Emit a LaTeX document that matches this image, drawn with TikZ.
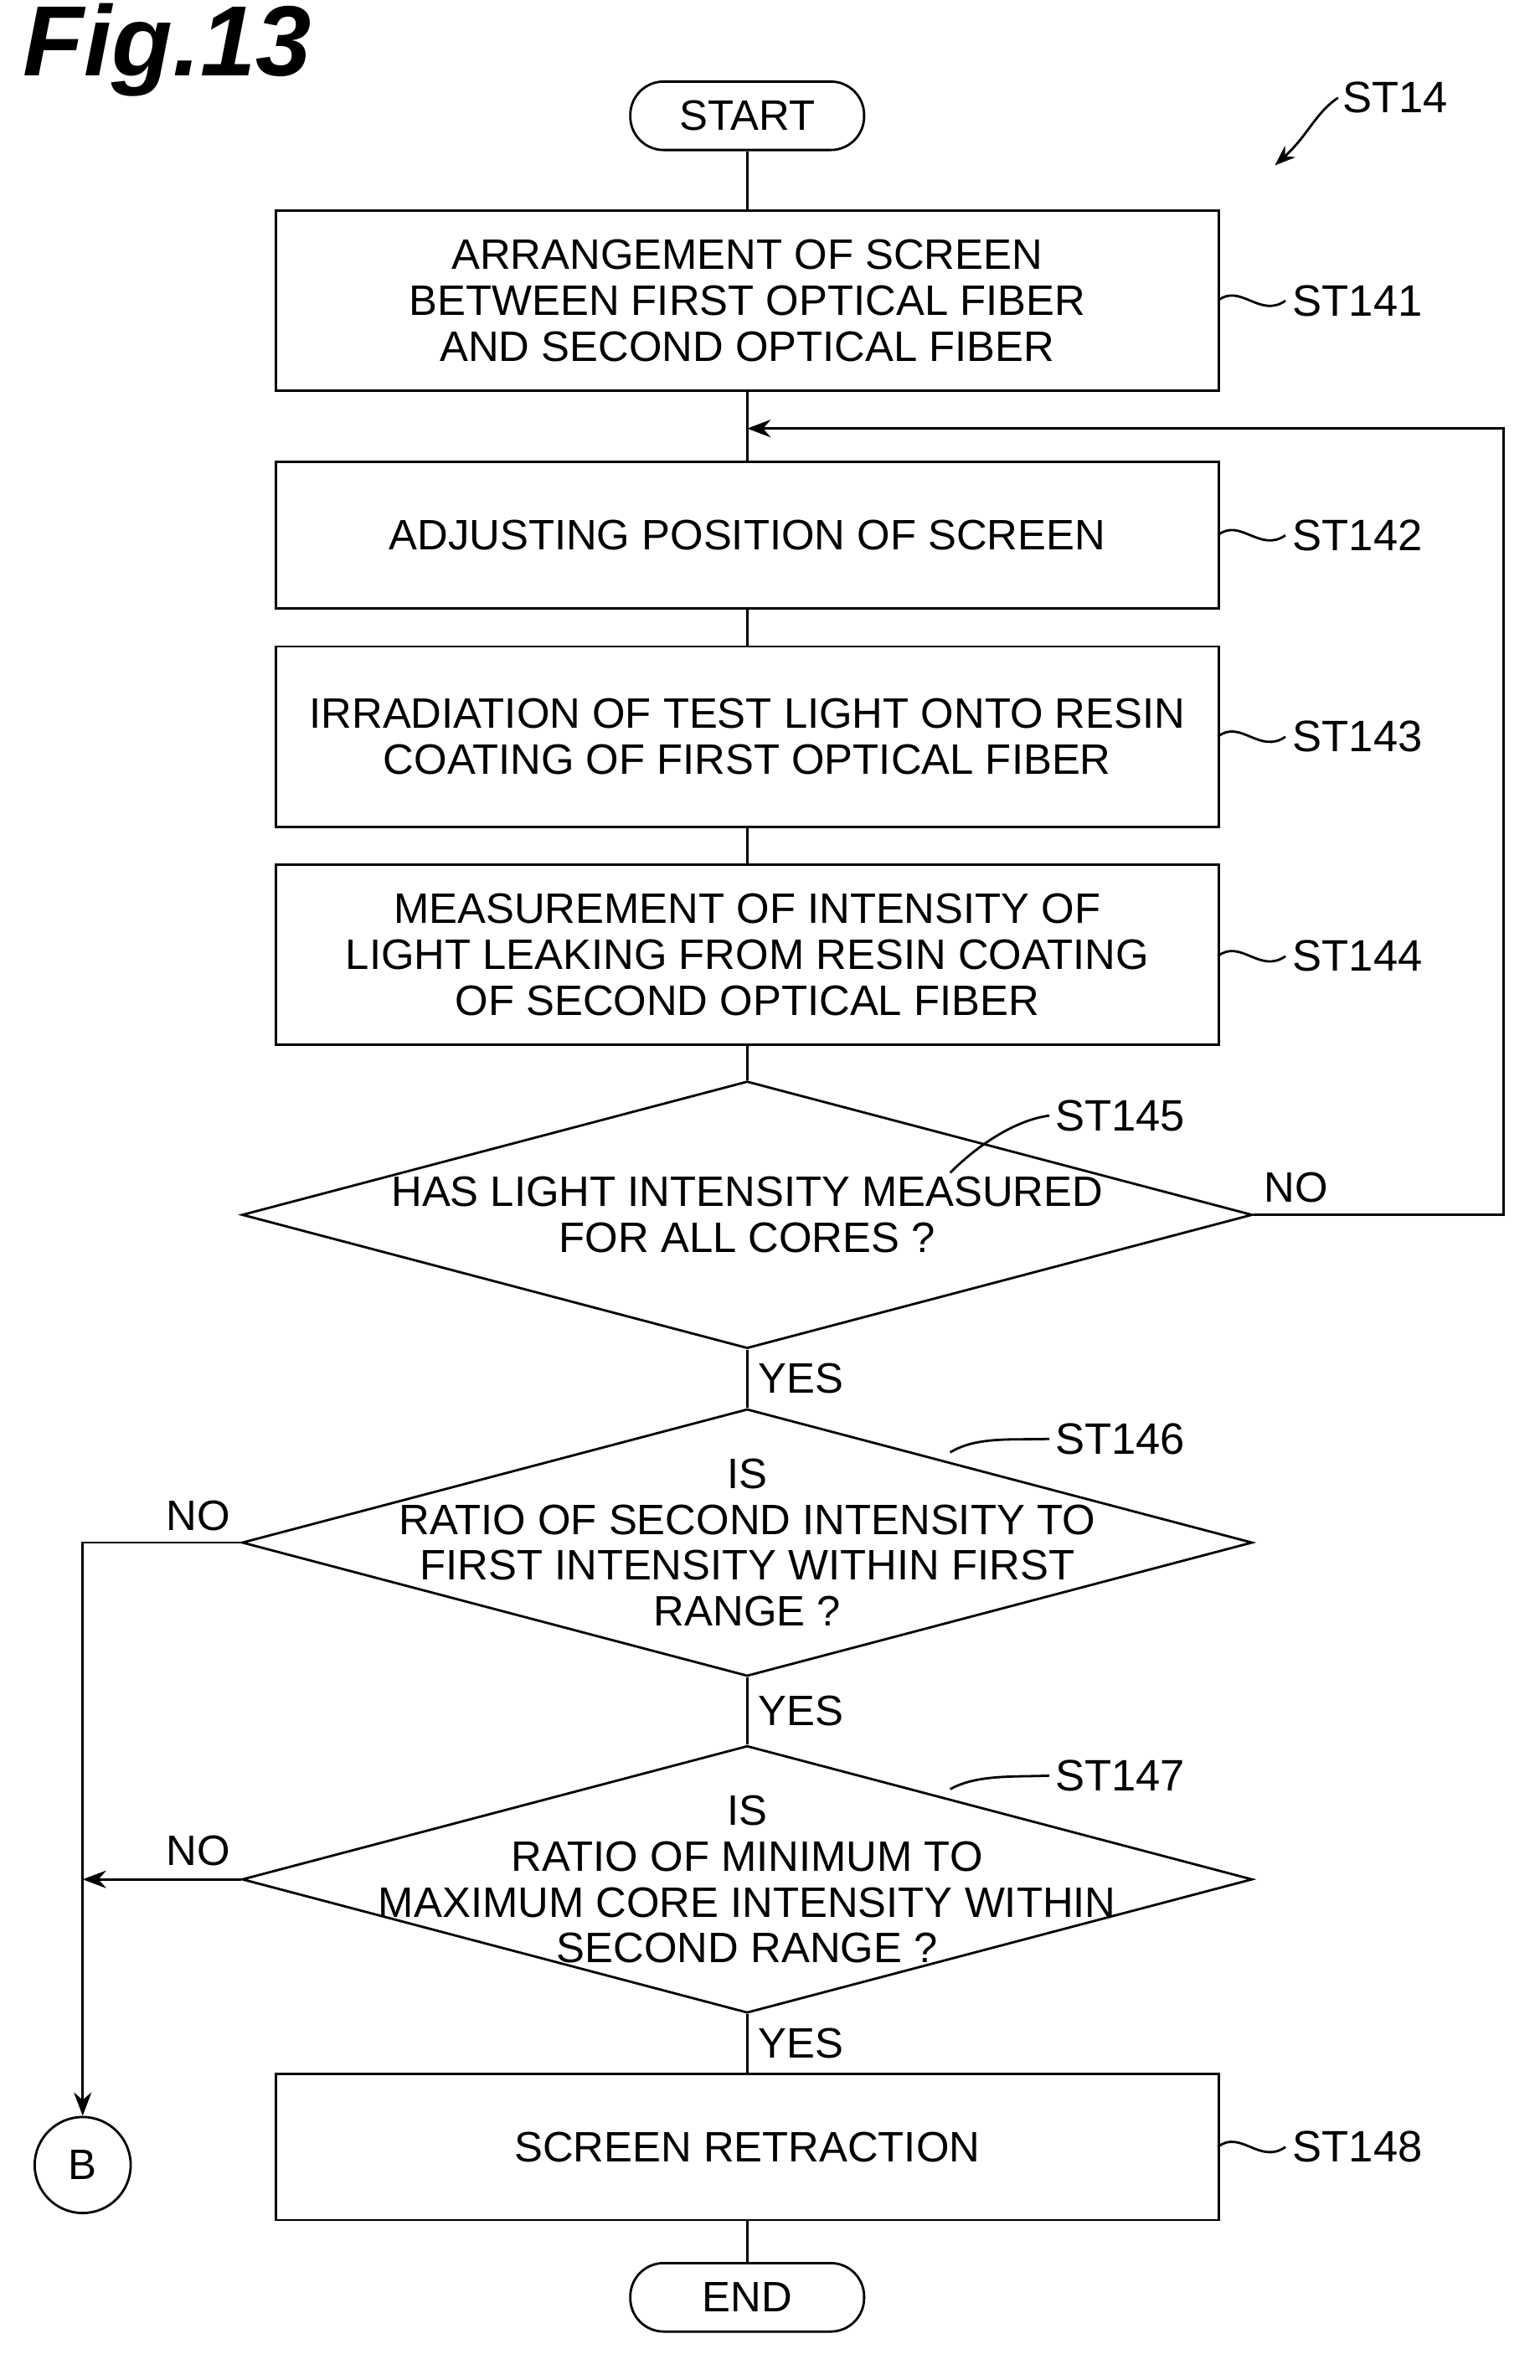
\documentclass[tikz,border=0pt]{standalone}
\usepackage{fontspec}
\setmainfont{Liberation Sans}
\usetikzlibrary{positioning,shapes.geometric,arrows.meta}

\tikzset{
  box/.style={draw,thick,minimum width=11.29cm,minimum height=1.75cm,align=center,inner sep=2pt},
  tallbox/.style={box,minimum height=2.16cm},
  term/.style={draw,thick,rounded corners=0.4cm,minimum width=2.8cm,minimum height=0.82cm},
  test/.style={draw,thick,diamond,minimum width=12.1cm,minimum height=3.2cm,inner sep=0pt},
  testtext/.style={align=center},
  lbl/.style={font=\fontsize{15}{16}\selectfont},
  every node/.append style={font=\fontsize{14.5}{15.6}\selectfont},
}

\begin{document}
\begin{tikzpicture}[x=0.018cm,y=-0.018cm,line width=0.8pt]
  \useasboundingbox (0,0) rectangle (1024,1583);
  \node[anchor=west,font=\bfseries\itshape\fontsize{34}{34}\selectfont] (fig) at (8,33) {Fig.13};

  % steps
  \node[term] (start) at (497,77) {START};
  \node[tallbox] (s141) at (497,200) {ARRANGEMENT OF SCREEN\\BETWEEN FIRST OPTICAL FIBER\\AND SECOND OPTICAL FIBER};
  \node[box] (s142) at (497,356) {ADJUSTING POSITION OF SCREEN};
  \node[tallbox] (s143) at (497,490) {IRRADIATION OF TEST LIGHT ONTO RESIN\\COATING OF FIRST OPTICAL FIBER};
  \node[tallbox] (s144) at (497,635) {MEASUREMENT OF INTENSITY OF\\LIGHT LEAKING FROM RESIN COATING\\OF SECOND OPTICAL FIBER};
  \node[test] (s145) at (497,808) {};
  \node[testtext] (t145) at (s145) {HAS LIGHT INTENSITY MEASURED\\FOR ALL CORES ?};
  \node[test] (s146) at (497,1026) {};
  \node[testtext] (t146) at (s146) {IS\\RATIO OF SECOND INTENSITY TO\\FIRST INTENSITY WITHIN FIRST\\RANGE ?};
  \node[test] (s147) at (497,1250) {};
  \node[testtext] (t147) at (s147) {IS\\RATIO OF MINIMUM TO\\MAXIMUM CORE INTENSITY WITHIN\\SECOND RANGE ?};
  \node[box] (s148) at (497,1428) {SCREEN RETRACTION};
  \node[term] (end) at (497,1528) {END};
  \node[draw,thick,circle,minimum size=1.15cm] (b) at (55,1440) {B};

  \coordinate (join) at (497,285);
  \coordinate (back) at (1000,808);
  \coordinate (left) at (55,1026);

  % connectors
  \draw (start) -- (s141);
  \draw (s141) -- (join) -- (s142);
  \draw (s142) -- (s143);
  \draw (s143) -- (s144);
  \draw (s144) -- (s145);
  \draw (s145) -- node[right]{YES} (s146);
  \draw (s146) -- node[right]{YES} (s147);
  \draw (s147) -- node[right]{YES} (s148);
  \draw (s148) -- (end);
  \draw[-{Stealth[length=8pt]}] (s145.east) -- (back) |- (join);
  \draw[-{Stealth[length=8pt]}] (s146.west) -- (left) -- (b);
  \draw[-{Stealth[length=8pt]}] (s147.west) -- (55,1250);
  \node at (862,790) {NO};
  \node at (132,1008) {NO};
  \node at (132,1231) {NO};

  % step labels
  \node[lbl] (l141) at (903,200) {ST141};
  \node[lbl] (l142) at (903,356) {ST142};
  \node[lbl] (l143) at (903,490) {ST143};
  \node[lbl] (l144) at (903,636) {ST144};
  \node[lbl] (l148) at (903,1428) {ST148};
  \node[lbl] (l145) at (745,742) {ST145};
  \node[lbl] (l146) at (745,957) {ST146};
  \node[lbl] (l147) at (745,1181) {ST147};
  \node[lbl] (l14) at (928,65) {ST14};
  \foreach \y in {200,356,490,636,1428}
    \draw (810,\y) .. controls (825,\y-12) and (838,\y+12) .. (855,\y);
  \draw (632,780) .. controls (650,762) and (675,745) .. (698,742);
  \draw (632,966) .. controls (650,955) and (675,958) .. (698,957);
  \draw (632,1190) .. controls (650,1180) and (675,1182) .. (698,1181);
  \draw[-{Stealth[length=7pt]}] (890,65) .. controls (875,75) and (870,90) .. (848,110);
\end{tikzpicture}
\end{document}
